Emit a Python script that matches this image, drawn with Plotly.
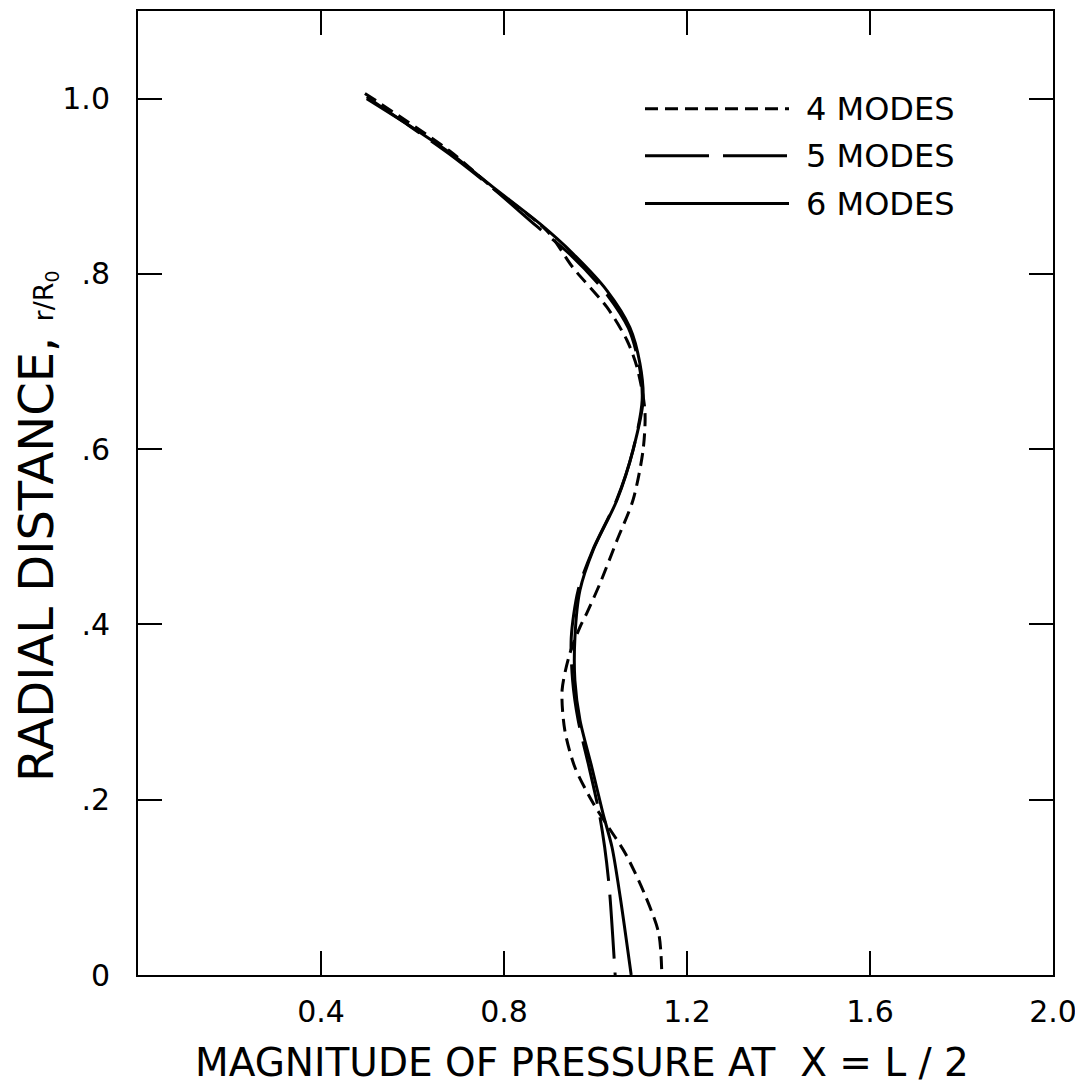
import plotly.graph_objects as go

# ---- data ----
r6 = [1.000, 0.971, 0.938, 0.899, 0.857, 0.823, 0.781, 0.739, 0.698, 0.656, 0.599, 0.542,
      0.485, 0.439, 0.385, 0.336, 0.291, 0.237, 0.185, 0.146, 0.089, 0.0]
p6 = [0.500, 0.588, 0.682, 0.776, 0.879, 0.951, 1.025, 1.075, 1.097, 1.104, 1.082, 1.047,
      0.995, 0.966, 0.955, 0.955, 0.966, 0.992, 1.016, 1.036, 1.054, 1.078]

r5 = [1.002, 0.970, 0.937, 0.898, 0.855, 0.822, 0.780, 0.738, 0.697, 0.656, 0.599, 0.542,
      0.485, 0.439, 0.385, 0.336, 0.291, 0.237, 0.185, 0.146, 0.100, 0.0]
p5 = [0.500, 0.590, 0.680, 0.775, 0.870, 0.945, 1.020, 1.072, 1.095, 1.102, 1.082, 1.046,
      0.994, 0.962, 0.947, 0.950, 0.962, 0.986, 1.008, 1.020, 1.030, 1.043]

r4 = [1.006, 0.940, 0.898, 0.849, 0.807, 0.762, 0.724, 0.693, 0.644, 0.599, 0.542, 0.496,
      0.447, 0.413, 0.397, 0.367, 0.325, 0.279, 0.237, 0.196, 0.169, 0.139, 0.094, 0.048, 0.0]
p4 = [0.496, 0.682, 0.776, 0.894, 0.951, 1.025, 1.069, 1.091, 1.108, 1.104, 1.082, 1.047,
      1.010, 0.981, 0.966, 0.944, 0.927, 0.933, 0.955, 0.995, 1.028, 1.065, 1.106, 1.138, 1.145]

x_ticks = [0.4, 0.8, 1.2, 1.6, 2.0]
x_ticklabels = ["0.4", "0.8", "1.2", "1.6", "2.0"]
y_ticks = [0, 0.2, 0.4, 0.6, 0.8, 1.0]
y_ticklabels = ["0", ".2", ".4", ".6", ".8", "1.0"]

series_names = ["4 MODES", "5 MODES", "6 MODES"]
series_dash = ["13px,7px", "64px,14px", "solid"]

FONT = "DejaVu Sans"

fig = go.Figure()
for (p, r), name, dash in zip([(p4, r4), (p5, r5), (p6, r6)], series_names, series_dash):
    fig.add_trace(go.Scatter(x=p, y=r, mode="lines", name=name,
                             line=dict(color="black", width=3, dash=dash, shape="spline",
                                       smoothing=0.8),
                             showlegend=False))

axis_common = dict(showline=True, linecolor="black", linewidth=2, mirror="ticks",
                   ticks="inside", ticklen=24, tickwidth=2, tickcolor="black",
                   showgrid=False, zeroline=False,
                   tickfont=dict(family=FONT, size=30, color="black"))

fig.update_xaxes(range=[0, 2.0], tickvals=x_ticks, ticktext=x_ticklabels,
                 ticklabelstandoff=9, **axis_common)
fig.update_yaxes(range=[0, 1.1], tickvals=y_ticks, ticktext=y_ticklabels,
                 ticklabelstandoff=20, **axis_common)

# page has an 8px body margin; plot area in page pixels: x 138..1053, y 9..975
OFF = 8
FIG_W, FIG_H = 1083 - OFF, 1092 - OFF
L, R, T, B = 138, 1053, 9, 975
W, H = R - L, B - T

def px(xp):
    return (xp - L) / W

def py(yp):
    return (B - yp) / H

# legend drawn manually
rows_y = [107, 154, 202]
for yy, name, dash in zip(rows_y, series_names, series_dash):
    fig.add_shape(type="line", xref="paper", yref="paper",
                  x0=px(645), x1=px(789), y0=py(yy), y1=py(yy),
                  line=dict(color="black", width=3, dash=dash))
    fig.add_annotation(xref="paper", yref="paper", x=px(804), y=py(yy),
                       xanchor="left", yanchor="middle", showarrow=False,
                       text=name, font=dict(family=FONT, size=32, color="black"))

# axis titles
fig.add_annotation(xref="paper", yref="paper", x=px(582), y=py(1063),
                   xanchor="center", yanchor="middle", showarrow=False,
                   text="MAGNITUDE OF PRESSURE AT&nbsp; X = L / 2",
                   font=dict(family=FONT, size=39, color="black"))
fig.add_annotation(xref="paper", yref="paper", x=px(36), y=py(526),
                   xanchor="center", yanchor="middle", showarrow=False, textangle=-90,
                   text="RADIAL DISTANCE, <span style='font-size:27px'>r/R<sub>0</sub></span>",
                   font=dict(family=FONT, size=48, color="black"))

fig.update_layout(width=FIG_W, height=FIG_H, paper_bgcolor="white", plot_bgcolor="white",
                  margin=dict(l=L - OFF, r=1083 - R, t=T - OFF, b=1092 - B),
                  showlegend=False)

fig.write_html("out.html")
